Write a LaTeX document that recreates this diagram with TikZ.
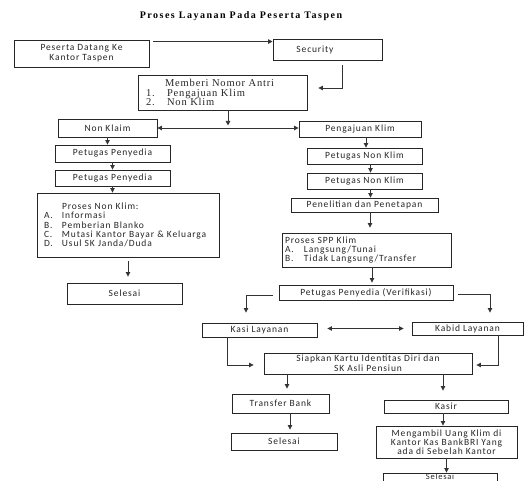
\documentclass[tikz,border=0pt]{standalone}
\usepackage{fontspec}
\setmainfont{Liberation Serif}
\newfontfamily\boxfont[LetterSpace=9]{Carlito}
\newfontfamily\titlefont[LetterSpace=15]{Liberation Serif}
\newfontfamily\listfont[LetterSpace=8]{Liberation Serif}
\usetikzlibrary{arrows.meta,calc}
\begin{document}
\begin{tikzpicture}[x=1pt,y=-1pt,
 box/.style={draw=black!85, line width=0.9pt, rectangle, inner sep=2pt,
   font=\boxfont\fontsize{9.5}{10}\selectfont, align=center, text=black!85},
 listbox/.style={box, align=left, font=\boxfont\fontsize{9.5}{9.3}\selectfont},
 arr/.style={draw=black!80, line width=0.8pt, -{Triangle[length=4.5pt,width=4.5pt]}},
 dblarr/.style={draw=black!80, line width=0.8pt, {Triangle[length=4.5pt,width=4.5pt]}-{Triangle[length=4.5pt,width=4.5pt]}},
]
\useasboundingbox (0,0) rectangle (528,481);

% title
\node[font=\titlefont\bfseries\fontsize{10}{12}\selectfont] (title) at (241,16) {Proses Layanan Pada Peserta Taspen};

% top
\node[box, minimum width=135pt, minimum height=27pt] (peserta) at (81.5,53.5) {Peserta Datang Ke\\Kantor Taspen};
\node[box, minimum width=109pt, minimum height=21pt] (security) at (327.5,49.5) {Security\hspace*{25pt}};
\node[box, align=left, inner xsep=8pt, inner ysep=1pt, text width=153pt, minimum width=169pt, minimum height=35pt,
  font=\listfont\fontsize{10.5}{9.6}\selectfont] (memberi) at (222.5,92.5)
  {\hspace*{19pt}Memberi Nomor Antri\\\makebox[21pt][l]{1.}Pengajuan Klim\\\makebox[21pt][l]{2.}Non Klim};

\node[box, minimum width=99pt, minimum height=18pt] (nonklaim) at (107.5,128) {Non Klaim};
\node[box, minimum width=122pt, minimum height=16pt] (pengajuan) at (360,129) {Pengajuan Klim};

% left branch
\node[box, minimum width=115pt, minimum height=17pt] (pp1) at (112.5,153.5) {Petugas Penyedia};
\node[box, minimum width=115pt, minimum height=16pt] (pp2) at (112.5,178) {Petugas Penyedia};
\node[listbox, inner xsep=7pt, text width=168pt, minimum width=182pt, minimum height=64pt] (pnk) at (128,225)
  {\hspace*{18pt}Proses Non Klim:\\\makebox[18pt][l]{A.}Informasi\\\makebox[18pt][l]{B.}Pemberian Blanko\\\makebox[18pt][l]{C.}Mutasi Kantor Bayar \& Keluarga\\\makebox[18pt][l]{D.}Usul SK Janda/Duda};
\node[box, minimum width=115pt, minimum height=21pt] (selesai1) at (124.5,293.5) {Selesai};

% right branch
\node[box, minimum width=115pt, minimum height=16pt] (pnk1) at (364.5,156) {Petugas Non Klim};
\node[box, minimum width=115pt, minimum height=16pt] (pnk2) at (364.5,181) {Petugas Non Klim};
\node[box, minimum width=147pt, minimum height=14pt] (penelitian) at (364.5,205) {Penelitian dan Penetapan};
\node[listbox, inner xsep=3pt, text width=163pt, minimum width=169pt, minimum height=34pt] (spp) at (366.5,250)
  {Proses SPP Klim\\\makebox[19pt][l]{A.}Langsung/Tunai\\\makebox[19pt][l]{B.}Tidak Langsung/Transfer};
\node[box, minimum width=174pt, minimum height=15pt] (verif) at (366,292.5) {Petugas Penyedia (Verifikasi)};

\node[box, minimum width=115pt, minimum height=14pt] (kasi) at (259.5,330) {Kasi Layanan};
\node[box, minimum width=111pt, minimum height=13pt] (kabid) at (467.5,328.5) {Kabid Layanan};
\node[box, minimum width=208pt, minimum height=21pt] (siapkan) at (368,363.5) {Siapkan Kartu Identitas Diri dan\\SK Asli Pensiun};

\node[box, minimum width=97pt, minimum height=19pt] (transfer) at (280.5,403.5) {Transfer Bank};
\node[box, minimum width=106pt, minimum height=17pt] (selesai2) at (284,441.5) {Selesai};
\node[box, minimum width=124pt, minimum height=13pt] (kasir) at (446,406.5) {Kasir};
\node[box, minimum width=141pt, minimum height=32pt, font=\boxfont\fontsize{9.5}{9}\selectfont] (mengambil) at (446.5,442)
  {Mengambil Uang Klim di\\Kantor Kas BankBRI Yang\\ada di Sebelah Kantor};
\node[box, minimum width=114pt, inner ysep=1.5pt, text height=5pt, text depth=9pt,
  font=\boxfont\fontsize{8.5}{9}\selectfont] (selesai3) at (440,481.5) {Selesai};

% connectors
\draw[arr] ([xshift=4pt,yshift=-2pt]peserta.north east) -- ([yshift=-3pt]security.north west);
\draw[arr] ([xshift=14.5pt,yshift=-5pt]security.south) |- ([xshift=11pt,yshift=4.5pt]memberi.east);
\draw[arr] ([xshift=5.5pt]memberi.south) -- ++(0,15);
\draw[dblarr] (nonklaim.east) -- (nonklaim.east -| pengajuan.west);

\draw[arr] (nonklaim.south) -- (nonklaim.south |- pp1.north);
\draw[arr] (pp1.south) -- (pp2.north);
\draw[arr] (pp2.south) -- (pp2.south |- pnk.north);
\draw[arr] ([yshift=-4pt]pnk.south) -- ([yshift=6pt]pnk.south |- selesai1.north);

\draw[arr] ([xshift=6pt]pengajuan.south) -- ([xshift=6pt]pengajuan.south |- pnk1.north);
\draw[arr] ([xshift=6pt]pnk1.south) -- ([xshift=6pt]pnk2.north);
\draw[arr] ([xshift=6pt]pnk2.south) -- ([xshift=6pt]pnk2.south |- penelitian.north);
\draw[arr] ([xshift=5.5pt]penelitian.south) -- ([xshift=5.5pt,yshift=5pt]penelitian.south |- spp.north);
\draw[arr] ([xshift=5.5pt]spp.south) -- ([xshift=5.5pt,yshift=2pt]spp.south |- verif.north);

\draw[arr] ([xshift=-6pt,yshift=-2.5pt]verif.west) -| ([xshift=-13.5pt,yshift=10pt]kasi.north);
\draw[arr] ([xshift=5pt,yshift=-1.5pt]verif.east) -| ([xshift=22.5pt,yshift=9pt]kabid.north);
\draw[dblarr] ([xshift=10pt,yshift=1.5pt]kasi.east) -- ([xshift=-8pt]kabid.west);

\draw[arr] ([xshift=-32.5pt]kasi.south) |- ([xshift=-10pt,yshift=-1.5pt]siapkan.west);
\draw[arr] ([xshift=30.5pt]kabid.south) |- ([xshift=4pt,yshift=-1.5pt]siapkan.east);
\draw[arr] ([xshift=-81pt]siapkan.south) -- ([xshift=-81pt,yshift=5pt]siapkan.south |- transfer.north);
\draw[arr] ([xshift=75pt]siapkan.south) -- ([xshift=75pt,yshift=9pt]siapkan.south |- kasir.north);
\draw[arr] ([xshift=9.5pt]transfer.south) -- ([xshift=9.5pt,yshift=3pt]transfer.south |- selesai2.north);
\draw[arr] ([xshift=-3pt]kasir.south) -- ([xshift=-3pt]kasir.south |- mengambil.north);
\draw[arr] (mengambil.south) -- (mengambil.south |- selesai3.north);
\end{tikzpicture}
\end{document}
